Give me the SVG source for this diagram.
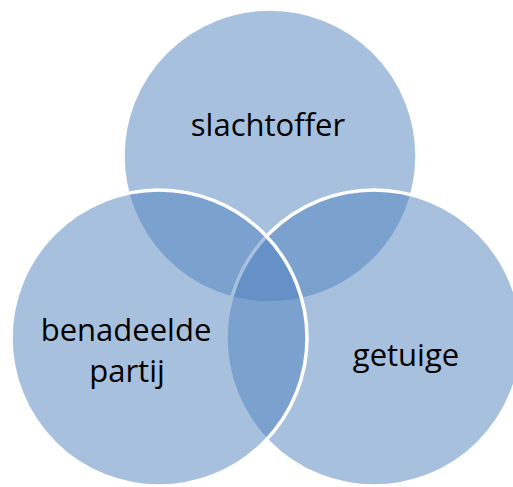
<svg xmlns="http://www.w3.org/2000/svg" width="513" height="487" viewBox="0 0 513 487">
<style>
.c{fill:#4F81BD;fill-opacity:0.5;stroke:#FFFFFF;stroke-width:3.5}
.t{font-family:"Open Sans","Noto Sans","Liberation Sans",sans-serif;font-size:31px;fill:#000000;text-anchor:middle}
</style>
<rect width="513" height="487" fill="#FFFFFF"/>
<g id="slachtoffer">
<circle class="c" cx="270" cy="156" r="147"/>
<text class="t" x="268" y="136">slachtoffer</text>
</g>
<g id="getuige">
<circle class="c" cx="374" cy="338" r="148"/>
<text class="t" x="406" y="366">getuige</text>
</g>
<g id="benadeelde-partij">
<circle class="c" cx="159" cy="338" r="148"/>
<text class="t" x="126" y="341">benadeelde</text>
<text class="t" x="127" y="382">partij</text>
</g>
<g id="connectors"/>
</svg>
